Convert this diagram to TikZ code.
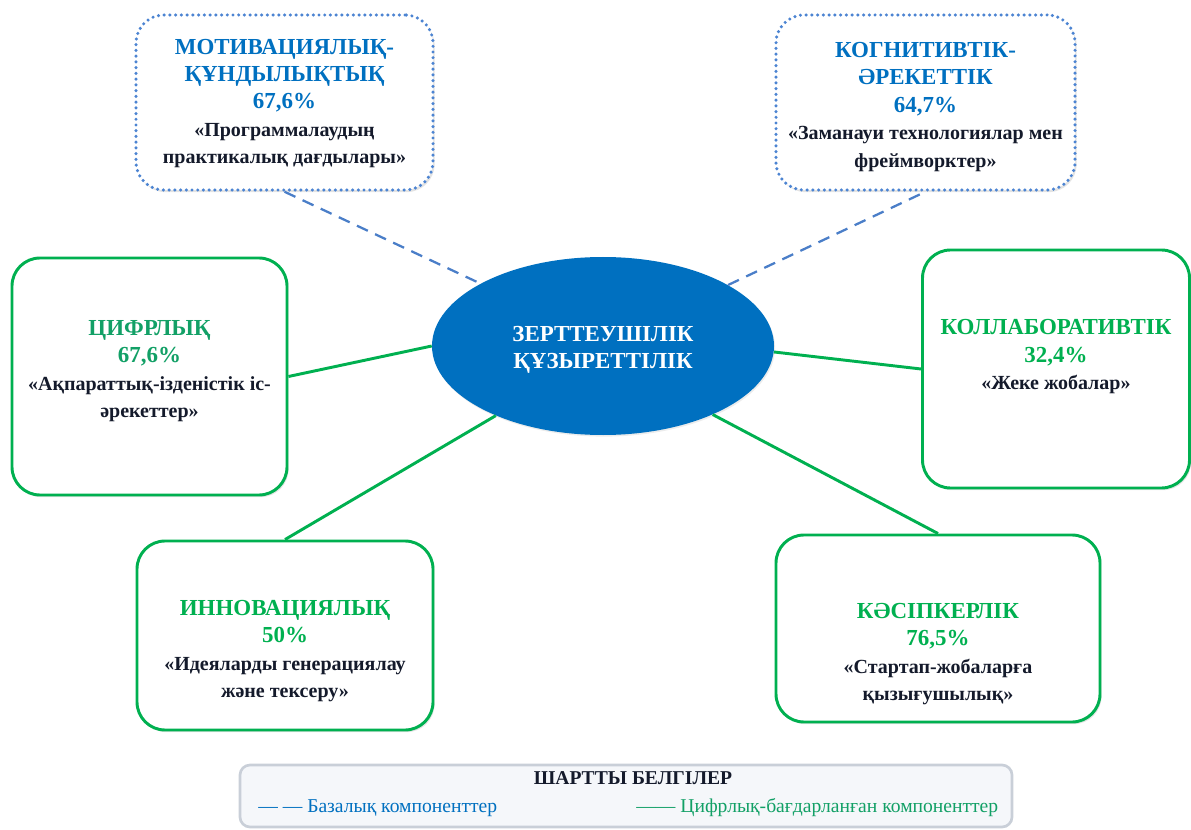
\documentclass[tikz,border=0pt]{standalone}
\usepackage{fontspec}
\setmainfont{Liberation Serif}
\usetikzlibrary{shapes.geometric,shadows,calc}
\definecolor{titleblue}{HTML}{0070C0}
\definecolor{dotblue}{HTML}{4C84D2}
\definecolor{dashblue}{HTML}{4A7EC8}
\definecolor{grn}{HTML}{00B050}
\definecolor{tealg}{HTML}{12A066}
\definecolor{darktxt}{HTML}{141A2B}
\definecolor{legfill}{HTML}{F5F7FA}
\definecolor{legline}{HTML}{C9CFD8}
\newcommand{\subtxt}{\color{darktxt}\fontsize{15}{20.3}\selectfont}
\begin{document}
\begin{tikzpicture}[x=0.75pt,y=-0.75pt,
  box/.style={draw, fill=white, rounded corners=21pt, inner sep=0pt,
    drop shadow={opacity=0.22, shadow xshift=1.2pt, shadow yshift=-1.6pt}},
  basebox/.style={box, draw=dotblue, line width=2.6pt, line cap=round, dash pattern=on 0pt off 4.3pt},
  digbox/.style={box, draw=grn, line width=2.2pt},
  boxtext/.style={align=center, inner sep=0pt, font=\bfseries\fontsize{17.2}{20.6}\selectfont},
  baseln/.style={draw=dashblue, line width=1.7pt, dash pattern=on 9pt off 6pt},
  digline/.style={draw=grn, line width=2.2pt},
  legtxt/.style={anchor=west, inner sep=0pt, font=\fontsize{14.7}{16}\selectfont}
]
\useasboundingbox (0,0) rectangle (1191,830);

% centre
\node[ellipse, fill=titleblue, minimum width=256.5pt, minimum height=133.5pt, inner sep=0pt,
  drop shadow={opacity=0.15, shadow xshift=0.8pt, shadow yshift=-1.2pt}] (c) at (603,346) {};
\node[align=center, text=white, font=\bfseries\fontsize{17.2}{20.3}\selectfont] (ct) at (603,349.5)
  {ЗЕРТТЕУШІЛІК\\ҚҰЗЫРЕТТІЛІК};

% boxes
\node[basebox, minimum width=222.75pt, minimum height=131.25pt] (tl) at (284.5,102.5) {};
\node[basebox, minimum width=224.25pt, minimum height=131.25pt] (tr) at (925.5,102.5) {};
\node[digbox, minimum width=206.25pt, minimum height=177.75pt] (l) at (149.5,376.5) {};
\node[digbox, minimum width=200.25pt, minimum height=178.5pt] (r) at (1056,369) {};
\node[digbox, minimum width=222pt, minimum height=141.75pt] (bl) at (285,635.5) {};
\node[digbox, minimum width=243pt, minimum height=140.25pt] (br) at (938,628.5) {};

% texts
\node[boxtext, text=titleblue] (tlt) at (284.5,103.5)
  {МОТИВАЦИЯЛЫҚ-\\ҚҰНДЫЛЫҚТЫҚ\\67,6\%\\{\subtxt «Программалаудың}\\{\subtxt практикалық дағдылары»}};
\node[boxtext, text=titleblue] (trt) at (925.5,107)
  {КОГНИТИВТІК-\\ӘРЕКЕТТІК\\64,7\%\\{\subtxt «Заманауи технологиялар мен}\\{\subtxt фреймворктер»}};
\node[boxtext, text=tealg] (lt) at (149.5,371)
  {ЦИФРЛЫҚ\\67,6\%\\{\subtxt «Ақпараттық-ізденістік іс-}\\{\subtxt әрекеттер»}};
\node[boxtext, text=grn] (rt) at (1056,357)
  {КОЛЛАБОРАТИВТІК\\32,4\%\\{\subtxt «Жеке жобалар»}};
\node[boxtext, text=grn] (blt) at (285,651)
  {ИННОВАЦИЯЛЫҚ\\50\%\\{\subtxt «Идеяларды генерациялау}\\{\subtxt және тексеру»}};
\node[boxtext, text=grn] (brt) at (938,654)
  {КӘСІПКЕРЛІК\\76,5\%\\{\subtxt «Стартап-жобаларға}\\{\subtxt қызығушылық»}};

% connectors
\draw[baseln] (tl.south) -- (c.153);
\draw[baseln] (c.26) -- (tr.south);
\draw[digline] (l.east) -- (c.west);
\draw[digline] (c.358) -- (r.west);
\draw[digline] (c.213) -- (bl.north);
\draw[digline] (c.328) -- (br.north);

% legend
\node[draw=legline, fill=legfill, line width=2pt, rounded corners=7.5pt,
  minimum width=579pt, minimum height=46.5pt, inner sep=0pt] (leg) at (626,796) {};
\node[text=darktxt, font=\bfseries\fontsize{14.7}{16}\selectfont] (legt) at (633,778) {ШАРТТЫ БЕЛГІЛЕР};
\node[legtxt, text=titleblue] (leg1) at (258,808) {— — Базалық компоненттер};
\node[legtxt, text=tealg] (leg2) at (636,808) {—— Цифрлық-бағдарланған компоненттер};
\end{tikzpicture}
\end{document}
